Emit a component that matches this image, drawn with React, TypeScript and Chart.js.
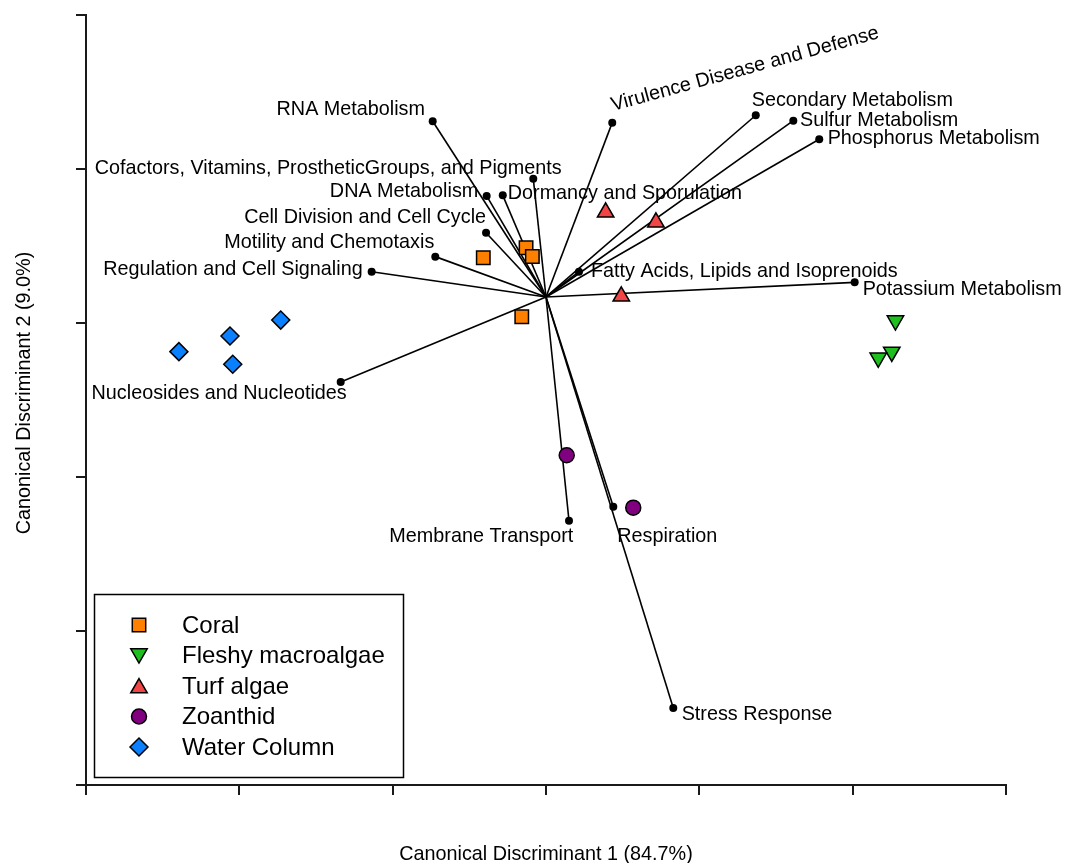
import React, { useEffect, useRef } from 'react';
import { Chart, registerables } from 'chart.js';
import { drawPoint } from 'chart.js/helpers';

Chart.register(...registerables);

// ---- Data (canonical discriminant space, arbitrary units) ----
const xTickMin = -3;
const xTickMax = 3;
const yTickMin = -3;
const yTickMax = 2;

const groupNames = ['Coral', 'Fleshy macroalgae', 'Turf algae', 'Zoanthid', 'Water Column'];

const coralX = [-0.409, -0.130, -0.089, -0.158];
const coralY = [0.424, 0.489, 0.432, 0.041];

const fleshyX = [2.279, 2.255, 2.167];
const fleshyY = [0.016, -0.188, -0.226];

const turfX = [0.389, 0.717, 0.491];
const turfY = [0.719, 0.654, 0.173];

const zoanthidX = [0.135, 0.569];
const zoanthidY = [-0.859, -1.199];

const waterX = [-2.394, -2.061, -2.043, -1.730];
const waterY = [-0.186, -0.084, -0.268, 0.019];

const vectorOriginX = 0;
const vectorOriginY = 0.169;

const vectorNames = [
  'RNA Metabolism',
  'Cofactors, Vitamins, ProstheticGroups, and Pigments',
  'DNA Metabolism',
  'Dormancy and Sporulation',
  'Cell Division and Cell Cycle',
  'Motility and Chemotaxis',
  'Regulation and Cell Signaling',
  'Nucleosides and Nucleotides',
  'Virulence Disease and Defense',
  'Secondary Metabolism',
  'Sulfur Metabolism',
  'Phosphorus Metabolism',
  'Fatty Acids, Lipids and Isoprenoids',
  'Potassium Metabolism',
  'Membrane Transport',
  'Respiration',
  'Stress Response',
];
const vectorX = [-0.739, -0.083, -0.387, -0.282, -0.391, -0.722, -1.137, -1.339, 0.432, 1.368, 1.613, 1.782, 0.215, 2.013, 0.150, 0.439, 0.830];
const vectorY = [1.310, 0.937, 0.825, 0.829, 0.586, 0.431, 0.333, -0.383, 1.301, 1.349, 1.314, 1.193, 0.333, 0.264, -1.284, -1.193, -2.500];

const xTitle = 'Canonical Discriminant 1 (84.7%)';
const yTitle = 'Canonical Discriminant 2 (9.0%)';

// ---- Styling / text placement (not data) ----
const FONT = '"Liberation Sans", Arial, Helvetica, sans-serif';
const labelPlacement = [
  { align: 'right', dx: -7.7, dy: -6.3, rot: 0 },
  { align: 'right', dx: 28.4, dy: -4.4, rot: 0 },
  { align: 'right', dx: -8.4, dy: 0.7, rot: 0 },
  { align: 'left', dx: 5, dy: 3.7, rot: 0 },
  { align: 'right', dx: 0, dy: -10, rot: 0 },
  { align: 'right', dx: -1, dy: -8.4, rot: 0 },
  { align: 'right', dx: -9, dy: 3.3, rot: 0 },
  { align: 'right', dx: 6, dy: 16.7, rot: 0 },
  { align: 'left', dx: 0.7, dy: -11.7, rot: -15.3 },
  { align: 'left', dx: -4, dy: -9.3, rot: 0 },
  { align: 'left', dx: 6.7, dy: 5.3, rot: 0 },
  { align: 'left', dx: 8.4, dy: 4.7, rot: 0 },
  { align: 'left', dx: 12, dy: 5.6, rot: 0 },
  { align: 'left', dx: 8, dy: 12.4, rot: 0 },
  { align: 'right', dx: 4.3, dy: 21.6, rot: 0 },
  { align: 'left', dx: 4, dy: 35.6, rot: 0 },
  { align: 'left', dx: 8.4, dy: 12, rot: 0 },
];

const groupStyles = [
  { pointStyle: 'rect', rotation: 0, radius: 9.5, color: '#FF8000' },
  { pointStyle: 'triangle', rotation: 180, radius: 9.5, color: '#1FBF1F' },
  { pointStyle: 'triangle', rotation: 0, radius: 9.5, color: '#F24545' },
  { pointStyle: 'circle', rotation: 0, radius: 7.5, color: '#800080' },
  { pointStyle: 'rectRot', rotation: 0, radius: 9, color: '#0A80FF' },
];

const groupXs = [coralX, fleshyX, turfX, zoanthidX, waterX];
const groupYs = [coralY, fleshyY, turfY, zoanthidY, waterY];

const textPlugin = {
  id: 'biplotText',
  beforeDatasetsDraw(chart: any) {
    const { ctx, scales } = chart;
    const xs = scales.x;
    const ys = scales.y;
    ctx.save();
    ctx.font = `19.8px ${FONT}`;
    ctx.fillStyle = '#000';
    ctx.textBaseline = 'alphabetic';
    vectorNames.forEach((name, i) => {
      const px = xs.getPixelForValue(vectorX[i]);
      const py = ys.getPixelForValue(vectorY[i]);
      const p = labelPlacement[i];
      ctx.save();
      ctx.translate(px + p.dx, py + p.dy);
      ctx.rotate((p.rot * Math.PI) / 180);
      ctx.textAlign = p.align;
      ctx.fillText(name, 0, 0);
      ctx.restore();
    });
    ctx.restore();
  },
  afterDraw(chart: any) {
    const { ctx, chartArea } = chart;
    ctx.save();
    ctx.fillStyle = '#000';
    ctx.font = `19.8px ${FONT}`;
    ctx.textAlign = 'center';
    ctx.textBaseline = 'alphabetic';
    ctx.fillText(xTitle, (chartArea.left + chartArea.right) / 2, chartArea.bottom + 75);
    ctx.save();
    ctx.translate(chartArea.left - 56.5, 393);
    ctx.rotate(-Math.PI / 2);
    ctx.fillText(yTitle, 0, 0);
    ctx.restore();

    // legend box
    const bx = 94.5, by = 594.5, bw = 309, bh = 183;
    ctx.lineWidth = 1.5;
    ctx.strokeStyle = '#000';
    ctx.fillStyle = '#fff';
    ctx.fillRect(bx, by, bw, bh);
    ctx.strokeRect(bx, by, bw, bh);
    ctx.font = `24px ${FONT}`;
    ctx.textAlign = 'left';
    ctx.textBaseline = 'middle';
    groupNames.forEach((name, i) => {
      const st = groupStyles[i];
      const cy = 625 + i * 30.5;
      ctx.fillStyle = st.color;
      ctx.strokeStyle = '#000';
      ctx.lineWidth = 1.5;
      let yy = cy;
      if (st.pointStyle === 'triangle') yy = cy + (st.rotation === 180 ? -2 : 2);
      drawPoint(ctx, { pointStyle: st.pointStyle, rotation: st.rotation, radius: st.radius, borderWidth: 1.5 } as any, 139, yy);
      ctx.fillStyle = '#000';
      ctx.fillText(name, 182, cy + 1);
    });
    ctx.restore();
  },
};

export default function App() {
  const ref = useRef<HTMLCanvasElement | null>(null);

  useEffect(() => {
    if (!ref.current) return;

    const groupDatasets = groupNames.map((name, g) => ({
      type: 'scatter' as const,
      label: name,
      data: groupXs[g].map((x, i) => ({ x, y: groupYs[g][i] })),
      pointStyle: groupStyles[g].pointStyle,
      rotation: groupStyles[g].rotation,
      pointRadius: groupStyles[g].radius,
      backgroundColor: groupStyles[g].color,
      borderColor: '#000',
      borderWidth: 1.5,
      showLine: false,
      order: 0,
    }));

    const vectorDatasets = vectorNames.map((name, i) => ({
      type: 'scatter' as const,
      label: name,
      data: [
        { x: vectorOriginX, y: vectorOriginY },
        { x: vectorX[i], y: vectorY[i] },
      ],
      showLine: true,
      borderColor: '#000',
      borderWidth: 1.6,
      pointRadius: [0, 4],
      pointBackgroundColor: '#000',
      pointBorderColor: '#000',
      pointBorderWidth: 0,
      fill: false,
      order: 1,
    }));

    const axisCommon = {
      type: 'linear' as const,
      ticks: { stepSize: 1, display: false },
      grid: {
        display: true,
        drawOnChartArea: false,
        drawTicks: true,
        tickLength: 10,
        lineWidth: 2,
        color: '#1a1a1a',
      },
      border: { display: true, width: 2, color: '#1a1a1a' },
    };

    const chart = new Chart(ref.current, {
      type: 'scatter',
      data: { datasets: [...groupDatasets, ...vectorDatasets] as any },
      options: {
        responsive: false,
        animation: false,
        devicePixelRatio: 1,
        layout: { padding: { left: 76, top: 15, right: 70, bottom: 68 } },
        plugins: {
          legend: { display: false },
          tooltip: { enabled: false },
        },
        scales: {
          x: { ...axisCommon, position: 'bottom', min: xTickMin, max: xTickMax },
          y: { ...axisCommon, position: 'left', min: yTickMin, max: yTickMax },
        } as any,
      },
      plugins: [textPlugin],
    });

    return () => chart.destroy();
  }, []);

  return (
    <div style={{ position: 'fixed', left: 0, top: 0, width: 1076, height: 863, background: '#fff' }}>
      <canvas ref={ref} width={1076} height={863} style={{ display: 'block' }} />
    </div>
  );
}
